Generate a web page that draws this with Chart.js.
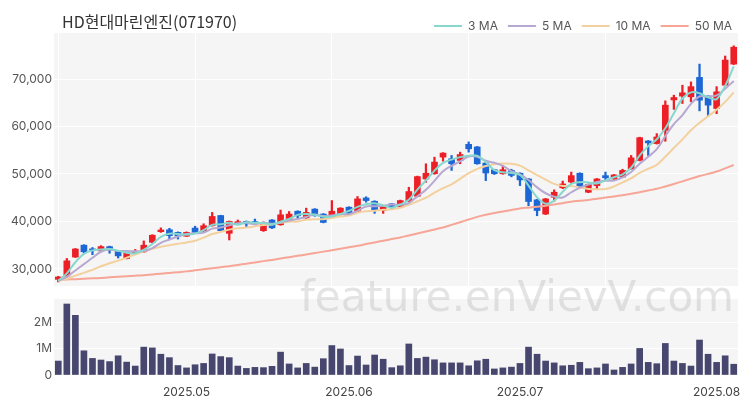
<!DOCTYPE html>
<html>
<head>
<meta charset="utf-8">
<script src="https://cdn.jsdelivr.net/npm/chart.js@4.4.1/dist/chart.umd.min.js"></script>
<style>
html,body{margin:0;padding:0;background:#fff;}
#wrap{position:relative;width:750px;height:400px;overflow:hidden;font-family:"Noto Sans CJK KR","Noto Sans",sans-serif;}
#title{position:absolute;left:62px;top:10px;font-size:16px;line-height:22px;color:#333;white-space:nowrap;}
#c1{position:absolute;left:0;top:0;}
#c2{position:absolute;left:0;top:290px;}
#wm{position:absolute;left:300px;top:271px;font-family:"DejaVu Sans",sans-serif;font-size:42px;line-height:52px;color:rgba(185,185,185,0.38);white-space:nowrap;pointer-events:none;}
</style>
</head>
<body>
<div id="wrap">
  <canvas id="c1" width="750" height="286"></canvas>
  <canvas id="c2" width="750" height="110"></canvas>
  <div id="title">HD현대마린엔진(071970)</div>
  <div id="wm">feature.enVievV.com</div>
</div>
<script>
const dates = [
 '2025-04-10','2025-04-11','2025-04-14','2025-04-15','2025-04-16','2025-04-17','2025-04-18','2025-04-21','2025-04-22','2025-04-23',
 '2025-04-24','2025-04-25','2025-04-28','2025-04-29','2025-04-30','2025-05-02','2025-05-07','2025-05-08','2025-05-09','2025-05-12',
 '2025-05-13','2025-05-14','2025-05-15','2025-05-16','2025-05-19','2025-05-20','2025-05-21','2025-05-22','2025-05-23','2025-05-26',
 '2025-05-27','2025-05-28','2025-05-29','2025-05-30','2025-06-02','2025-06-03','2025-06-04','2025-06-05','2025-06-09','2025-06-10',
 '2025-06-11','2025-06-12','2025-06-13','2025-06-16','2025-06-17','2025-06-18','2025-06-19','2025-06-20','2025-06-23','2025-06-24',
 '2025-06-25','2025-06-26','2025-06-27','2025-06-30','2025-07-01','2025-07-02','2025-07-03','2025-07-04','2025-07-07','2025-07-08',
 '2025-07-09','2025-07-10','2025-07-11','2025-07-14','2025-07-15','2025-07-16','2025-07-17','2025-07-18','2025-07-21','2025-07-22',
 '2025-07-23','2025-07-24','2025-07-25','2025-07-28','2025-07-29','2025-07-30','2025-07-31','2025-08-01','2025-08-04','2025-08-05'
];
const opens = [
 27800,28500,32500,35000,34200,33800,34700,33800,32200,33400,
 33600,35600,37850,38250,37700,36900,38600,37900,39100,41250,
 37500,39600,40000,39950,38050,40300,39300,40150,42150,40750,
 42600,41550,41000,41450,43000,42150,44950,44250,42300,43700,
 43100,44250,45300,48950,50050,53550,53200,52850,56250,55700,
 52300,50900,50050,50750,50150,48950,44550,41550,45100,47100,
 48300,50150,46150,47550,49650,48950,49350,51100,52850,56950,
 56400,59200,65600,66400,66250,70350,66400,63800,68700,73150
];
const highs = [
 28450,32200,34300,35100,34500,34900,34800,33900,33500,34100,
 35900,37200,38650,38550,37800,37800,39000,39500,41900,41300,
 40100,40300,40100,40500,39900,40400,42400,42100,42250,42800,
 42700,41650,44400,42900,43100,45250,45200,44350,43400,43800,
 44500,47200,49550,52150,53550,54500,53900,54600,56750,55800,
 52400,51000,51800,51000,50250,49050,44650,44850,46650,48500,
 50400,50250,47900,49050,50400,49900,51000,53900,57750,57050,
 58500,65400,66600,68700,69400,73150,66500,68400,74850,77000
];
const lows = [
 27250,28200,32400,33300,33000,33700,33300,32300,32100,33200,
 33500,35500,37700,36300,36300,36800,37600,37800,39000,38000,
 36100,39500,38900,39300,37900,38500,39200,40050,40500,40650,
 41100,39700,40900,41350,41600,42050,44050,41700,41700,42600,
 43000,44150,45200,48250,49950,52700,50750,52150,54600,52050,
 48600,49900,49950,49400,47550,43300,41200,41450,44250,46900,
 48100,47150,46050,46850,48750,48850,49250,51000,52750,53900,
 56300,56900,63600,64850,65200,63300,62150,62700,68600,73050
];
const closes = [
 28300,31700,34200,33600,33900,34700,34000,32750,33450,33650,
 35000,37100,38200,37000,36900,37700,37700,39100,41050,38050,
 40000,39950,39500,39650,39800,38650,41400,41550,41200,41900,
 41200,39800,42150,42800,41700,44750,44400,42400,43300,43000,
 44400,46300,49450,50150,52500,54400,52150,54100,55300,52150,
 50200,50050,50900,49700,48750,44200,42300,44750,46150,47900,
 49650,47250,47800,48950,49200,49800,50750,53400,57650,56550,
 57800,64500,66100,67100,68400,65550,64500,67300,74000,76700
];
const volumes = [
 530000,2700000,2270000,920000,630000,570000,510000,730000,490000,340000,
 1060000,1030000,790000,660000,360000,270000,390000,440000,800000,700000,
 660000,340000,250000,290000,280000,330000,870000,420000,270000,440000,
 300000,620000,1120000,990000,360000,720000,380000,760000,600000,280000,
 350000,1180000,630000,680000,580000,460000,460000,460000,350000,540000,
 600000,230000,270000,300000,440000,1060000,790000,530000,460000,350000,
 370000,480000,240000,270000,420000,190000,290000,420000,1010000,480000,
 430000,1200000,530000,440000,340000,1330000,790000,480000,730000,410000
];
const ma3 = [
 27500,29070,31400,33170,33900,34070,34200,33820,33400,33280,
 34030,35250,36770,37430,37370,37200,37430,38170,39280,39400,
 39700,39330,39820,39700,39650,39370,39950,40530,41380,41550,
 41430,40970,41050,41580,42220,43080,43620,43850,43370,42900,
 43570,44570,46720,48630,50700,52350,53020,53550,53850,53850,
 52550,50800,50380,50220,49780,47550,45080,43750,44400,46270,
 47900,48270,48230,48000,48650,49320,49920,51320,53930,55870,
 57330,59620,62800,65900,67200,67020,66150,65780,68600,72670
];
const ma5 = [
 27500,28320,29680,31000,32340,33620,34080,33790,33760,33710,
 33770,34390,35480,36190,36840,37380,37500,37680,38490,38720,
 39180,39630,39710,39430,39780,39510,39800,40210,40520,40940,
 41450,41130,41250,41570,41530,42240,43160,43210,43310,43570,
 43500,43880,45290,46660,48560,50560,51730,52660,53690,53620,
 52780,52360,51720,50600,49920,48720,47170,45940,45230,45060,
 46150,47140,47750,48310,48570,48600,49300,50420,52160,53630,
 55230,57980,60520,62410,64780,66330,66330,66570,67950,69610
];
const ma10 = [
 27500,27910,28580,29170,29830,30560,31200,31740,32380,33030,
 33700,34240,34640,34980,35280,35580,35950,36580,37340,37780,
 38280,38570,38700,38960,39250,39350,39720,39960,39980,40360,
 40480,40470,40730,41050,41240,41850,42150,42230,42440,42550,
 42870,43520,44250,44990,46070,47030,47810,48980,50180,51090,
 51670,52050,52190,52150,51770,50750,49770,48830,47920,47490,
 47440,47160,46850,46770,46820,47380,48220,49090,50240,51100,
 51920,53640,55470,57290,59210,60780,62160,63550,65180,67200
];
const ma50 = [
 27670,27760,27840,27930,28010,28100,28220,28330,28450,28560,
 28680,28840,29000,29160,29320,29480,29700,29920,30140,30360,
 30580,30840,31110,31370,31640,31900,32190,32470,32760,33040,
 33330,33640,33950,34260,34570,34880,35230,35580,35930,36280,
 36630,37050,37470,37890,38310,38730,39280,39840,40400,40960,
 41400,41770,42100,42420,42720,42910,43080,43320,43570,43850,
 44150,44350,44540,44780,45030,45270,45530,45820,46150,46520,
 46870,47370,47900,48450,49020,49560,50020,50530,51190,51890
];
const maLabels = ['3 MA','5 MA','10 MA','50 MA'];
const maColors = ['#86d8cf','#b7a8d2','#f3d19f','#f6a596'];
const priceTicks = [30000,40000,50000,60000,70000];
const volumeTicks = [0,1000000,2000000];

const upColor = '#ec1f27', downColor = '#1c66d6';
const candleColor = ctx => closes[ctx.dataIndex] >= opens[ctx.dataIndex] ? upColor : downColor;

const panelBg = {
  id: 'panelBg',
  beforeDraw(chart) {
    const {ctx, chartArea: a} = chart;
    ctx.save();
    ctx.fillStyle = '#f5f5f5';
    ctx.fillRect(a.left, a.top, a.right - a.left, a.bottom - a.top);
    ctx.restore();
  }
};
const legendShift = {
  id: 'legendShift',
  afterLayout(chart) {
    if (chart.legend) { chart.legend.left += 4; chart.legend.right += 4; }
  }
};
const fixY = s => { s.width = 54; s.paddingTop = 0; s.paddingBottom = 0; };

Chart.defaults.font.family = 'Inter, "Noto Sans", sans-serif';
Chart.defaults.animation = false;

const maDatasets = [ma3, ma5, ma10, ma50].map((d, k) => ({
  type: 'line', label: maLabels[k], data: d,
  borderColor: maColors[k], backgroundColor: maColors[k],
  borderWidth: 2, pointRadius: 0, tension: 0.35, order: 1
}));

new Chart(document.getElementById('c1'), {
  type: 'bar',
  data: {
    labels: dates,
    datasets: [
      { type: 'bar', label: 'wick', data: lows.map((l, i) => [l, highs[i]]),
        backgroundColor: candleColor, barThickness: 1.6, grouped: false, order: 3, borderWidth: 0 },
      { type: 'bar', label: 'body', data: opens.map((o, i) => [o, closes[i]]),
        backgroundColor: candleColor, barThickness: 6, grouped: false, order: 2, borderWidth: 0, minBarLength: 1.5 },
      ...maDatasets
    ]
  },
  options: {
    responsive: false,
    animation: false,
    layout: { padding: { top: 10, right: 12, left: 0, bottom: 0 } },
    plugins: {
      tooltip: { enabled: false },
      legend: {
        position: 'top', align: 'end', maxHeight: 23,
        labels: {
          boxWidth: 28, boxHeight: 2, padding: 10, color: '#555',
          font: { size: 12 },
          filter: item => item.datasetIndex >= 2,
          generateLabels: chart => Chart.defaults.plugins.legend.labels.generateLabels(chart)
            .map(l => Object.assign(l, { lineWidth: 0, fillStyle: chart.data.datasets[l.datasetIndex].borderColor }))
        }
      }
    },
    scales: {
      x: {
        type: 'category', offset: true,
        grid: { color: '#ffffff', lineWidth: 1, drawTicks: false, offset: false },
        border: { display: false },
        ticks: { display: false },
        afterBuildTicks: axis => { axis.ticks = axis.ticks.filter(t => t.value % 16 === 0); },
        afterFit: s => { s.height = 0; s.paddingLeft = 0; s.paddingRight = 0; }
      },
      y: {
        position: 'left', min: 26400, max: 79700,
        afterBuildTicks: axis => { axis.ticks = priceTicks.map(v => ({ value: v })); },
        ticks: { color: '#555', font: { size: 12 }, padding: 2,
                 callback: v => v.toLocaleString('en-US') },
        grid: { color: '#ffffff', lineWidth: 1, drawTicks: false },
        border: { display: false },
        afterFit: fixY
      }
    }
  },
  plugins: [panelBg, legendShift]
});

const monthTickIdx = dates.map((d, i) => (i > 0 && d.slice(5, 7) !== dates[i - 1].slice(5, 7)) ? i : -1).filter(i => i >= 0);

new Chart(document.getElementById('c2'), {
  type: 'bar',
  data: {
    labels: dates,
    datasets: [{ label: 'Volume', data: volumes, backgroundColor: '#46466e', barThickness: 6, borderWidth: 0 }]
  },
  options: {
    responsive: false,
    animation: false,
    layout: { padding: { top: 9, right: 12, left: 0, bottom: 0 } },
    plugins: { legend: { display: false }, tooltip: { enabled: false } },
    scales: {
      x: {
        type: 'category', offset: true,
        grid: { display: false },
        border: { display: false },
        afterBuildTicks: axis => { axis.ticks = monthTickIdx.map(i => ({ value: i })); },
        ticks: { autoSkip: false, maxRotation: 0, color: '#444', font: { size: 12 }, padding: 2,
                 callback: (v) => dates[v].slice(0, 7).replace('-', '.') },
        afterFit: s => { s.height = 25; s.paddingLeft = 0; s.paddingRight = 0; }
      },
      y: {
        min: 0, max: 2890000,
        afterBuildTicks: axis => { axis.ticks = volumeTicks.map(v => ({ value: v })); },
        ticks: { color: '#555', font: { size: 12 }, padding: 2,
                 callback: v => v === 0 ? '0' : (v / 1000000) + 'M' },
        grid: { color: '#ffffff', lineWidth: 1, drawTicks: false },
        border: { display: false },
        afterFit: fixY
      }
    }
  },
  plugins: [panelBg]
});
</script>
</body>
</html>
